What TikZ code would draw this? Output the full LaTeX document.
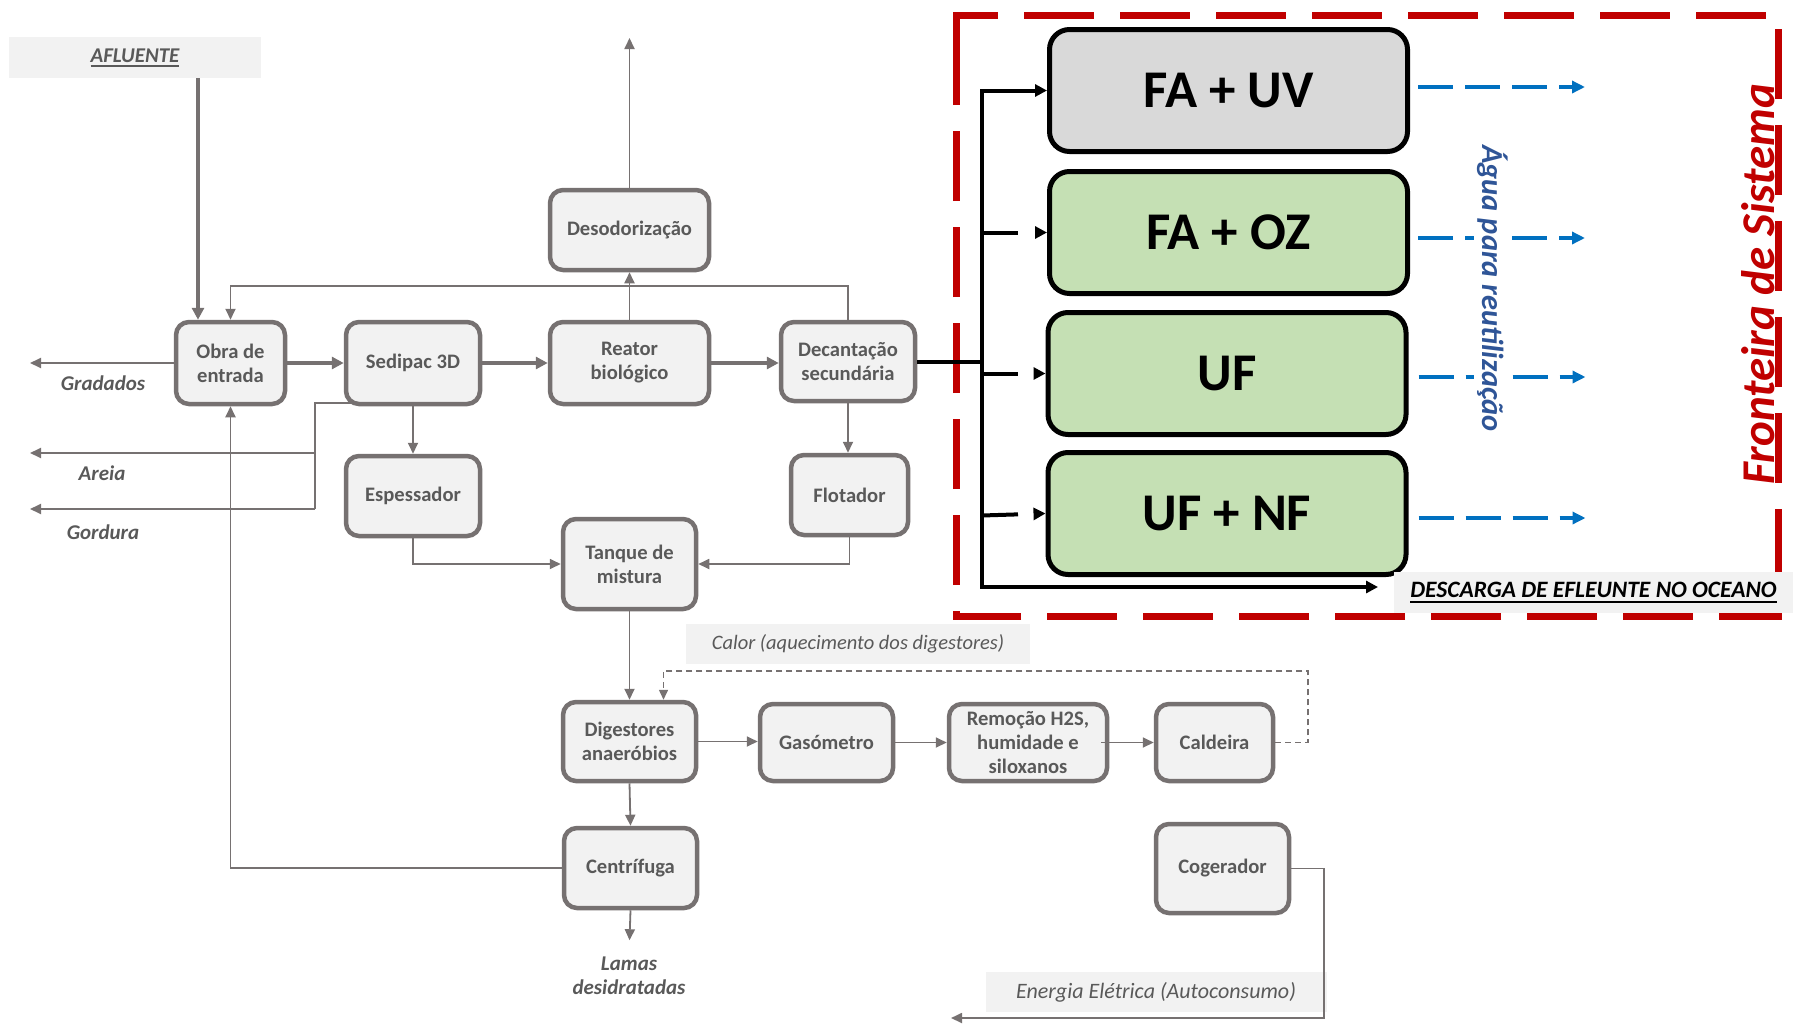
\documentclass[tikz,border=0pt]{standalone}
\usepackage{fontspec}
\setmainfont{Carlito}
\usetikzlibrary{arrows.meta,calc}

\definecolor{lineGray}{HTML}{767171}
\definecolor{boxFill}{HTML}{F2F2F2}
\definecolor{txtGray}{HTML}{595959}
\definecolor{bndRed}{HTML}{C00000}
\definecolor{reuseBlue}{HTML}{0070C0}
\definecolor{labelBlue}{HTML}{2F5597}
\definecolor{uvGray}{HTML}{D9D9D9}
\definecolor{stageGreen}{HTML}{C5E0B4}

% underlined text with a rule of our own thickness
\newcommand\ulbox[1]{\setbox0=\hbox{#1}\rlap{\rule[-0.22em]{\wd0}{0.09em}}\box0}

\begin{document}
\begin{tikzpicture}[x=1pt,y=-1pt,
  proc/.style={draw=lineGray, line width=4.5pt, fill=boxFill, rounded corners=13pt,
    text=txtGray, font=\bfseries\fontsize{20.6}{24}\selectfont, align=center, inner sep=0pt},
  stage/.style={draw=black, line width=5pt, rounded corners=20pt,
    font=\bfseries\fontsize{53}{60}\selectfont, minimum width=358pt, minimum height=122pt, inner sep=0pt},
  outlbl/.style={text=txtGray, font=\bfseries\itshape\fontsize{21}{24}\selectfont, align=center, inner sep=0pt},
  notebox/.style={fill=boxFill, text=txtGray, font=\itshape\fontsize{20.5}{23}\selectfont, inner sep=0pt},
  mainflow/.style={draw=lineGray, line width=4pt, -{Triangle[length=12pt,width=12pt]}},
  sideflow/.style={draw=lineGray, line width=1.8pt, -{Triangle[length=11pt,width=10pt]}},
  plainflow/.style={draw=lineGray, line width=1.8pt},
  heatflow/.style={draw=lineGray, line width=1.5pt, dash pattern=on 6pt off 4pt, -{Triangle[length=10pt,width=9pt]}},
  busline/.style={draw=black, line width=4pt},
  busarrow/.style={draw=black, line width=4pt, -{Triangle[length=12pt,width=12pt]}},
  gapped/.style={dash pattern=on 36pt off 40pt},
  reuse/.style={draw=reuseBlue, line width=4pt, dash pattern=on 35pt off 12pt, -{Triangle[length=13pt,width=12pt]}}
]
\useasboundingbox (0,0) rectangle (1793,1028);

% ---- system boundary ----
\draw[bndRed, line width=7pt, dash pattern=on 70pt off 26pt]
  (956,43) -- (956,15) -- (1778,15) -- (1778,616) -- (956,616) -- cycle;

% ---- process units ----
\node[notebox, minimum width=252pt, minimum height=41pt] (afl) at (135,57.5)
  {\bfseries\itshape\fontsize{21}{24}\selectfont\ulbox{AFLUENTE}};
\node[proc, minimum width=109pt, minimum height=82pt] (obra) at (230.5,363) {Obra de\\entrada};
\node[proc, minimum width=134pt, minimum height=82pt] (sedipac) at (413,363) {Sedipac 3D};
\node[proc, minimum width=159pt, minimum height=82pt] (reator) at (629.5,363) {Reator\\biológico};
\node[proc, minimum width=134pt, minimum height=79pt] (decant) at (848,361.5) {Decantação\\secundária};
\node[proc, minimum width=159pt, minimum height=80pt] (desod) at (629.5,230) {Desodorização};
\node[proc, minimum width=134pt, minimum height=80pt] (espess) at (413,496) {Espessador};
\node[proc, minimum width=117pt, minimum height=80pt] (flot) at (849.5,495) {Flotador};
\node[proc, minimum width=133pt, minimum height=90pt] (tanque) at (629.5,564) {Tanque de\\mistura};
\node[proc, minimum width=133pt, minimum height=79pt] (digest) at (629.5,741.5) {Digestores\\anaeróbios};
\node[proc, minimum width=133pt, minimum height=77pt] (gaso) at (826.5,742.5) {Gasómetro};
\node[proc, minimum width=158pt, minimum height=77pt] (remoc) at (1028,742.5) {Remoção H2S,\\humidade e\\siloxanos};
\node[proc, minimum width=117pt, minimum height=77pt] (cald) at (1214.5,742.5) {Caldeira};
\node[proc, minimum width=133pt, minimum height=80pt] (centr) at (630.5,868) {Centrífuga};
\node[proc, minimum width=133pt, minimum height=89pt] (coger) at (1222.5,868.5) {Cogerador};

% ---- tertiary treatment options ----
\node[stage, fill=uvGray] (fauv) at (1228.5,90.5) {FA + UV};
\node[stage, fill=stageGreen] (faoz) at (1228.5,232.5) {FA + OZ};
\node[stage, fill=stageGreen] (uf) at (1227,373.5) {UF};
\node[stage, fill=stageGreen] (ufnf) at (1227,513.5) {UF + NF};

% ---- output labels ----
\node[outlbl] (grad) at (103,383) {Gradados};
\node[outlbl] (areia) at (102,473) {Areia};
\node[outlbl] (gord) at (103,532) {Gordura};
\node[outlbl] (lamas) at (629,976) {Lamas\\desidratadas};
\node[notebox, minimum width=344pt, minimum height=40pt] (calor) at (858,644) {Calor (aquecimento dos digestores)};
\node[notebox, minimum width=341pt, minimum height=40pt, font=\itshape\fontsize{22}{25}\selectfont] (energ) at (1156,992) {Energia Elétrica (Autoconsumo)};

% ---- helper coordinates ----
\coordinate (aflX) at (198,0);
\coordinate (loopY) at (0,286);
\coordinate (odourOut) at (629.5,38);
\coordinate (leftOut) at (30,0);
\coordinate (sedTap) at ([shift={(-40,-3)}]sedipac.south);
\coordinate (sandJ) at (315,453);
\coordinate (fatJ) at (315,509);
\coordinate (heatR) at (1308,671);
\coordinate (powerR) at (1324,1018);
\coordinate (powerEnd) at (951,1018);
\coordinate (busX) at (982,0);
\coordinate (seaOut) at (1378,587);

% ---- liquid line ----
\draw[mainflow] (afl.south -| aflX) -- (obra.north -| aflX);
\draw[mainflow] (obra.east) -- (obra.east -| sedipac.west);
\draw[mainflow] (sedipac.east) -- (sedipac.east -| reator.west);
\draw[mainflow] (reator.east) -- (reator.east -| decant.west);
\draw[sideflow] (decant.north) -- (decant.north |- loopY) -| (obra.north);
\draw[sideflow] (reator.north) -- (desod.south);
\draw[sideflow] (desod.north) -- (odourOut);
\draw[sideflow] (obra.west) -- (obra.west -| leftOut);
\draw[plainflow] (sedTap) -| (fatJ);
\draw[sideflow] (sandJ) -- (sandJ -| leftOut);
\draw[sideflow] (fatJ) -- (fatJ -| leftOut);

% ---- sludge line ----
\draw[sideflow] (sedipac.south) -- (espess.north);
\draw[sideflow] (decant.south) -- (decant.south |- flot.north);
\draw[sideflow] (espess.south) |- (tanque.west);
\draw[sideflow] (flot.south) |- (tanque.east);
\draw[sideflow] (tanque.south) -- (digest.north);
\draw[sideflow] (digest.south) -- (centr.north);
\draw[sideflow] (centr.south) -- ++(-1,30);
\draw[sideflow] (centr.west) -| (obra.south);

% ---- biogas line ----
\draw[sideflow] (digest.east) -- (digest.east -| gaso.west);
\draw[sideflow] (gaso.east) -- (gaso.east -| remoc.west);
\draw[sideflow] ([xshift=-8pt]remoc.east) -- (remoc.east -| cald.west);
\draw[heatflow] (cald.east) -| (heatR) -| ([xshift=34pt]digest.north);
\draw[sideflow] (coger.east) -| (powerR) -- (powerEnd);

% ---- effluent distribution ----
\draw[busline] (decant.east) -- (decant.east -| busX);
\draw[busarrow] (busX |- seaOut) |- (fauv.west);
\draw[busarrow] (busX |- fauv.west) |- (seaOut);
\draw[busarrow, gapped] (faoz.west -| busX) -- (faoz.west);
\draw[busarrow, gapped] (uf.west -| busX) -- (uf.west);
\draw[busarrow, gapped] ([yshift=-2pt]ufnf.west -| busX) -- (ufnf.west);

\node[fill=boxFill, minimum width=399pt, minimum height=41pt, inner sep=0pt] (desc) at (1593.5,592.5)
  {\bfseries\itshape\fontsize{23.5}{26}\selectfont\ulbox{DESCARGA DE EFLEUNTE NO OCEANO}};

% ---- water for reuse ----
\draw[reuse] ([shift={(8,-3.5)}]fauv.east) -- ++(167,0);
\draw[reuse] ([shift={(8,5.5)}]faoz.east) -- ++(167,0);
\draw[reuse] ([shift={(10,3.5)}]uf.east) -- ++(167,0);
\draw[reuse] ([shift={(10,4.5)}]ufnf.east) -- ++(167,0);
\node[rotate=-90, anchor=base, fill=white, text=labelBlue, inner sep=3pt,
  font=\bfseries\itshape\fontsize{30.5}{34}\selectfont] (agua) at (1482,288.5) {Água para reutilização};

\node[rotate=90, anchor=base, text=bndRed, inner sep=0pt,
  font=\bfseries\itshape\fontsize{47}{50}\selectfont] (front) at (1774,284) {Fronteira de Sistema};
\end{tikzpicture}
\end{document}
